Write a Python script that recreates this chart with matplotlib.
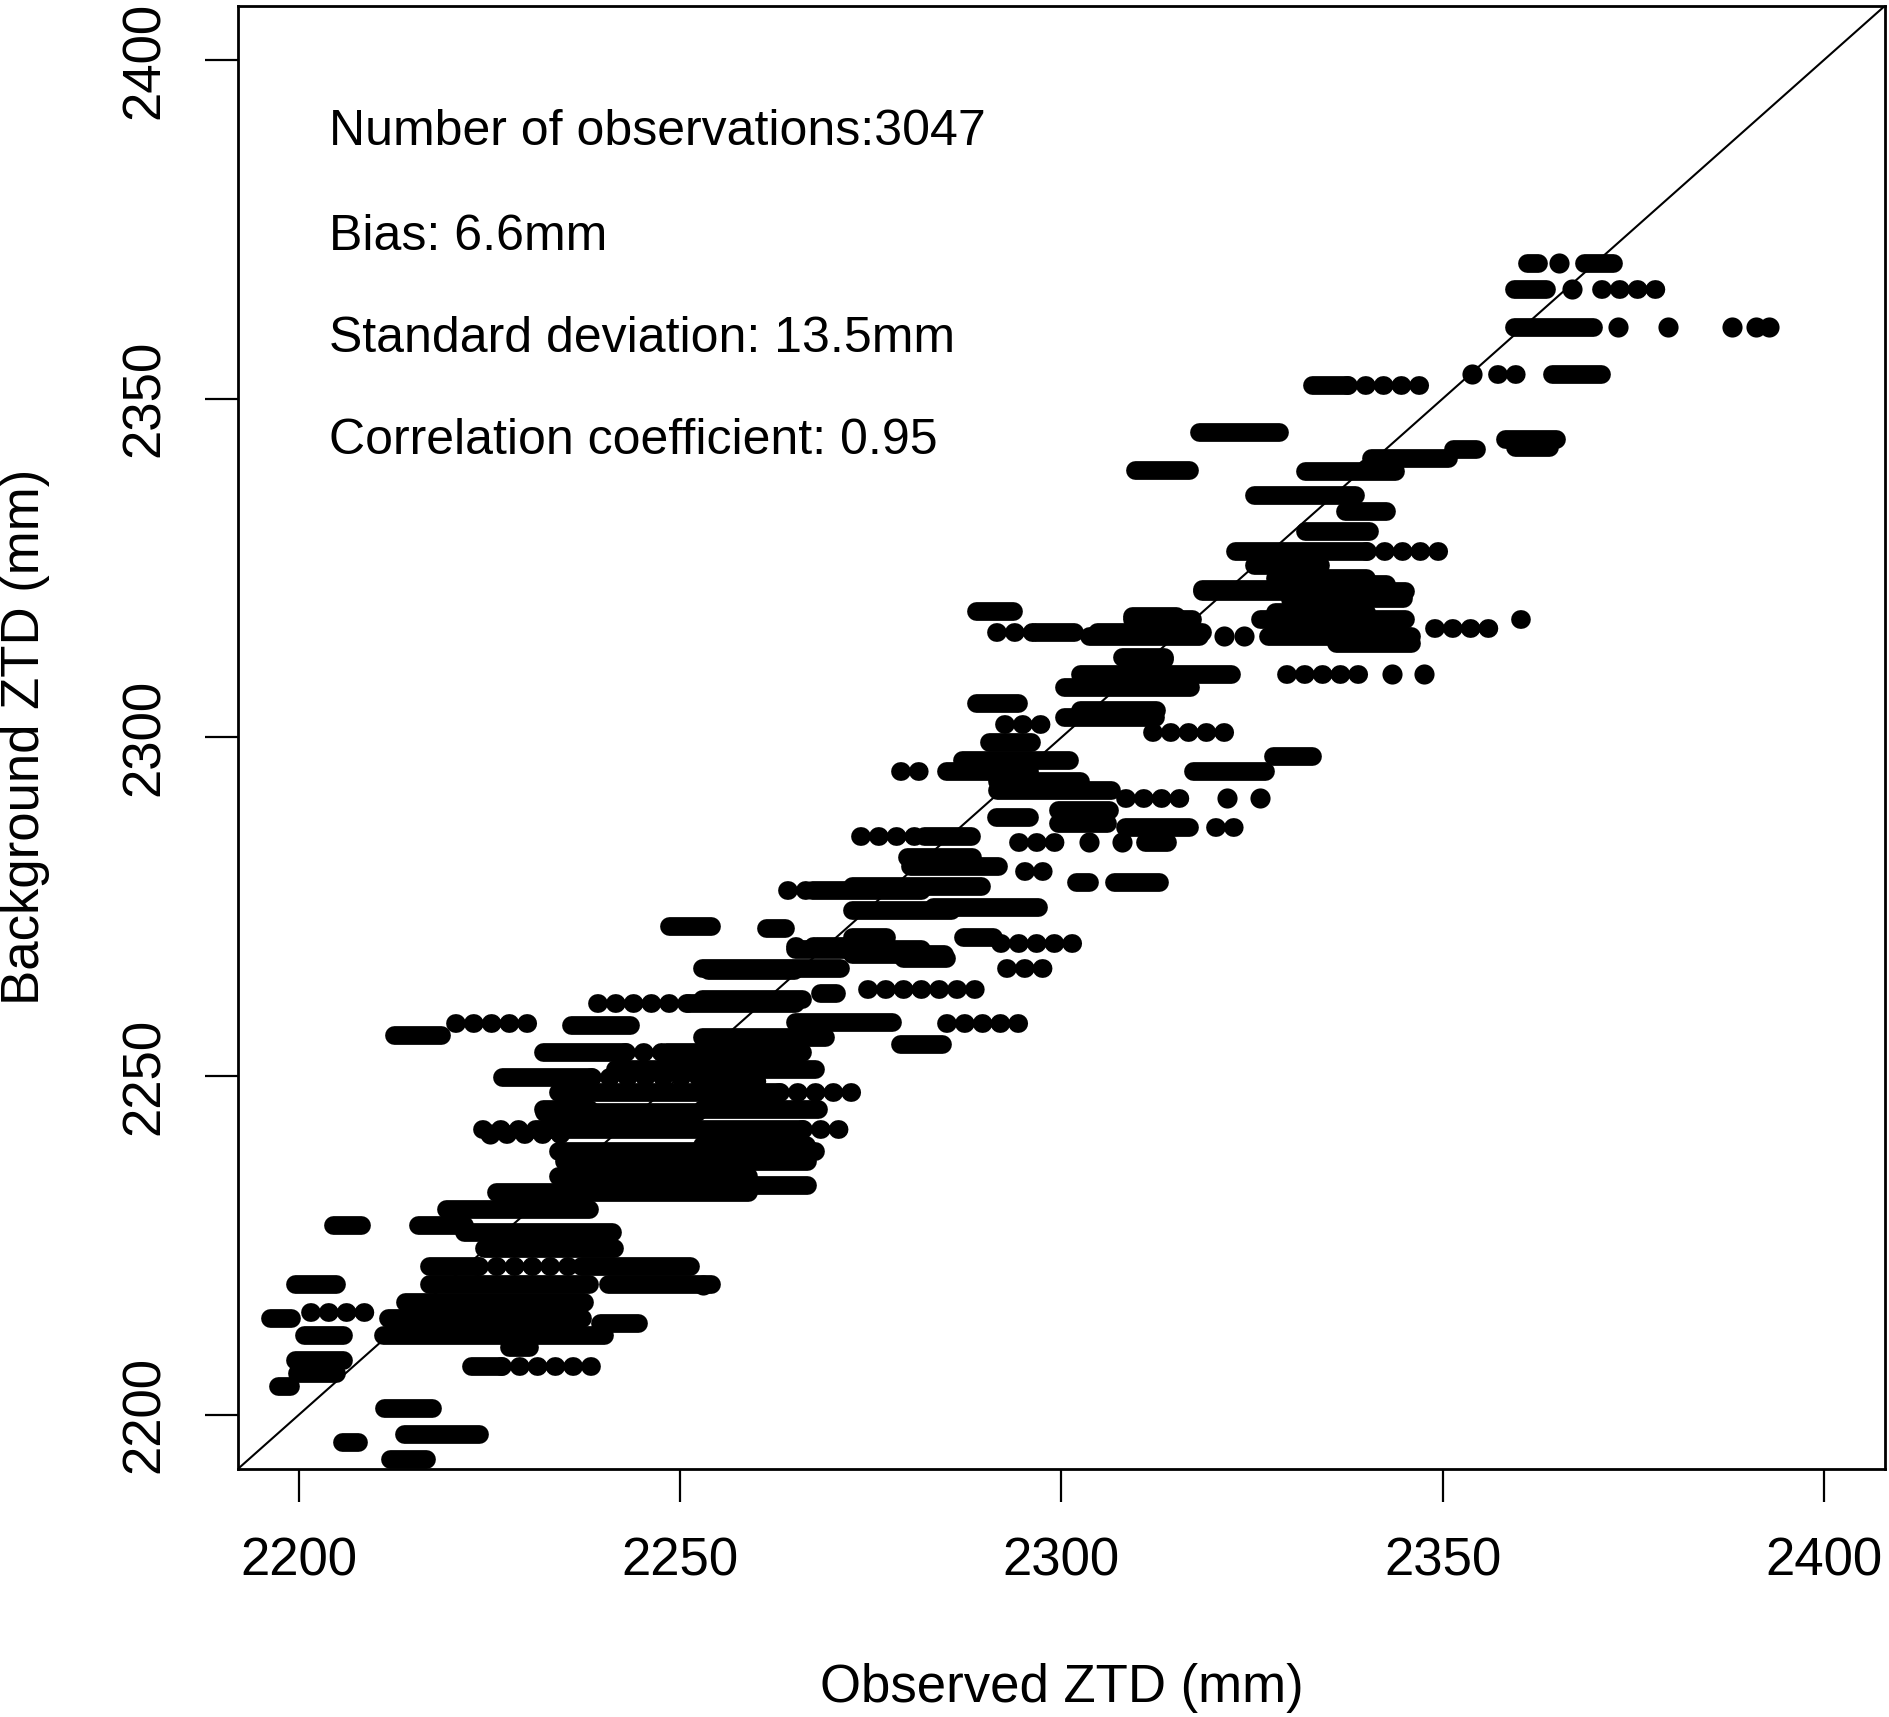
import matplotlib
matplotlib.use("Agg")
import matplotlib.pyplot as plt

# horizontal runs of overlapping points: (background ZTD, observed from, observed to)
dense_runs = [
    (2370.0, 2361.0, 2362.5), (2370.0, 2368.6, 2372.3), (2366.2, 2359.3, 2363.6),
    (2360.6, 2359.3, 2369.7), (2353.7, 2364.3, 2370.8), (2344.0, 2358.2, 2364.9),
    (2342.8, 2359.5, 2364.0), (2352.0, 2332.8, 2337.5), (2345.1, 2318.0, 2328.5),
    (2342.6, 2351.3, 2354.4), (2341.2, 2340.6, 2350.7), (2339.7, 2340.0, 2343.6),
    (2339.5, 2309.7, 2316.7), (2339.3, 2331.9, 2343.7), (2335.8, 2325.2, 2338.5),
    (2333.4, 2337.2, 2342.6), (2330.4, 2331.9, 2340.4), (2327.5, 2322.8, 2340.0),
    (2325.5, 2325.2, 2333.9), (2323.5, 2328.0, 2340.0), (2322.6, 2333.0, 2342.6),
    (2321.9, 2318.4, 2329.3), (2321.6, 2318.4, 2345.0), (2320.6, 2340.0, 2344.8),
    (2320.5, 2330.0, 2340.0), (2318.7, 2288.8, 2293.6), (2318.5, 2328.0, 2340.0),
    (2317.9, 2309.3, 2315.0), (2317.5, 2309.3, 2317.1), (2317.5, 2326.0, 2345.0),
    (2315.5, 2296.5, 2301.7), (2315.5, 2304.7, 2318.4), (2315.0, 2303.6, 2318.0),
    (2315.0, 2327.1, 2345.9), (2314.0, 2336.0, 2345.9), (2311.8, 2308.0, 2313.5),
    (2311.6, 2308.4, 2313.4), (2309.4, 2302.5, 2322.3), (2307.4, 2300.4, 2316.9),
    (2305.0, 2288.8, 2294.3), (2304.0, 2302.5, 2312.4), (2303.0, 2300.4, 2312.3),
    (2299.3, 2290.5, 2296.0), (2297.2, 2327.8, 2332.8), (2296.6, 2287.0, 2301.0),
    (2295.1, 2284.9, 2295.8), (2295.1, 2317.3, 2326.7), (2293.5, 2291.5, 2302.5),
    (2292.2, 2291.5, 2306.5), (2289.3, 2299.6, 2306.3), (2288.3, 2291.4, 2295.8),
    (2287.3, 2299.6, 2306.0), (2286.8, 2308.4, 2316.7), (2285.4, 2282.0, 2288.2),
    (2284.6, 2311.0, 2313.9), (2282.4, 2279.7, 2288.3), (2281.0, 2280.2, 2291.7),
    (2278.7, 2301.9, 2303.6), (2278.7, 2306.9, 2312.8), (2278.0, 2272.5, 2289.4),
    (2277.5, 2267.3, 2281.6), (2275.0, 2283.2, 2296.9), (2274.5, 2272.5, 2285.5),
    (2272.1, 2248.5, 2254.1), (2271.9, 2261.2, 2263.8), (2270.6, 2287.1, 2291.0),
    (2270.6, 2272.5, 2277.0), (2269.2, 2268.0, 2277.1), (2268.7, 2265.0, 2281.6),
    (2268.0, 2272.5, 2284.6), (2267.4, 2279.2, 2284.9), (2266.0, 2252.9, 2270.9),
    (2265.7, 2253.6, 2264.9), (2262.3, 2268.4, 2270.5), (2261.3, 2252.9, 2266.0),
    (2260.8, 2251.0, 2265.1), (2258.0, 2265.0, 2277.8), (2257.6, 2235.7, 2243.4),
    (2256.1, 2212.5, 2218.6), (2255.7, 2252.9, 2269.0), (2254.7, 2278.8, 2284.3),
    (2253.5, 2232.0, 2242.7), (2253.5, 2248.2, 2266.0), (2251.0, 2241.5, 2267.7),
    (2249.8, 2226.6, 2238.3), (2247.6, 2234.0, 2263.0), (2245.1, 2232.0, 2238.0),
    (2245.1, 2252.9, 2268.1), (2244.7, 2232.2, 2252.2), (2242.2, 2231.0, 2266.0),
    (2239.8, 2252.9, 2266.5), (2239.0, 2234.0, 2267.7), (2238.3, 2234.7, 2258.9),
    (2237.8, 2260.0, 2264.2), (2237.5, 2234.8, 2266.6), (2235.3, 2234.0, 2258.9),
    (2233.9, 2252.9, 2266.6), (2232.9, 2225.8, 2258.9), (2230.4, 2219.3, 2238.0),
    (2228.0, 2204.5, 2208.2), (2228.0, 2215.6, 2221.7), (2227.0, 2221.7, 2241.0),
    (2224.6, 2224.3, 2241.3), (2221.9, 2217.1, 2223.5), (2221.9, 2237.0, 2251.3),
    (2219.3, 2199.5, 2204.9), (2219.3, 2217.1, 2238.0), (2219.3, 2240.5, 2254.1),
    (2216.7, 2213.9, 2237.4), (2214.3, 2196.2, 2199.0), (2214.3, 2211.7, 2237.1),
    (2213.5, 2239.5, 2244.5), (2211.8, 2200.6, 2205.8), (2211.8, 2211.0, 2240.0),
    (2210.0, 2227.6, 2230.2), (2208.1, 2199.5, 2205.8), (2207.2, 2222.5, 2226.5),
    (2206.2, 2199.7, 2204.9), (2204.2, 2197.3, 2198.8), (2201.0, 2211.2, 2217.5),
    (2197.1, 2213.8, 2223.6), (2195.9, 2205.6, 2207.7), (2193.4, 2211.9, 2216.7),
]

# runs where the points are spaced out
dotted_runs = [
    (2366.2, 2370.8, 2379.1), (2353.7, 2357.1, 2360.8), (2352.0, 2337.5, 2348.8),
    (2327.5, 2340.0, 2349.8), (2317.5, 2360.2, 2362.0), (2316.2, 2348.9, 2357.2),
    (2315.5, 2291.4, 2296.5), (2309.4, 2329.5, 2340.0), (2302.0, 2292.5, 2299.3),
    (2300.8, 2311.9, 2321.9), (2295.1, 2278.8, 2282.1), (2291.0, 2308.4, 2317.1),
    (2286.8, 2320.2, 2323.0), (2285.4, 2273.6, 2282.0), (2284.6, 2294.3, 2300.6),
    (2280.2, 2295.1, 2298.0), (2277.5, 2264.0, 2267.3), (2269.6, 2291.9, 2301.5),
    (2269.2, 2265.1, 2268.0), (2266.0, 2292.7, 2299.7), (2262.8, 2274.5, 2290.3),
    (2260.8, 2239.1, 2251.0), (2257.9, 2284.9, 2295.8), (2257.9, 2220.5, 2230.3),
    (2253.5, 2242.7, 2248.2), (2249.8, 2238.3, 2257.0), (2249.3, 2252.9, 2261.6),
    (2247.6, 2263.0, 2273.6), (2242.2, 2224.0, 2231.0), (2242.2, 2266.0, 2272.0),
    (2241.5, 2227.2, 2235.4), (2221.9, 2223.5, 2237.0), (2215.2, 2201.4, 2209.1),
    (2207.2, 2226.5, 2239.1),
]

# isolated points
single_obs = [2365.2, 2366.9, 2373.0, 2379.5, 2388.0, 2391.1, 2392.8, 2353.8,
              2321.3, 2323.9, 2343.3, 2347.6, 2321.7, 2326.1, 2303.6, 2308.0,
              2225.1, 2253.0]
single_bg = [2370.0, 2366.2, 2360.6, 2360.6, 2360.6, 2360.6, 2360.6, 2353.7,
             2315.0, 2315.0, 2309.4, 2309.4, 2291.0, 2291.0, 2284.6, 2284.6,
             2241.5, 2219.2]

stats = ["Number of observations:3047", "Bias: 6.6mm",
         "Standard deviation: 13.5mm", "Correlation coefficient: 0.95"]
stats_y = [2387.4, 2371.9, 2356.9, 2341.9]

ticks = [2200, 2250, 2300, 2350, 2400]

plt.rcParams['font.family'] = ['Liberation Sans', 'DejaVu Sans']

fig = plt.figure(figsize=(18.9, 17.17), dpi=100)
ax = fig.add_axes([0.1259, 0.1445, 0.8714, 0.8521])

lw = 13.5
for y, x0, x1 in dense_runs:
    ax.plot([x0, x1], [y, y], color="black", lw=lw, solid_capstyle="round")
for y, x0, x1 in dotted_runs:
    ax.plot([x0, x1], [y, y], color="black", lw=lw,
            linestyle=(0, (0.05, 0.9)), dash_capstyle="round")
ax.plot(single_obs, single_bg, "o", color="black", ms=14.5, mew=0)

ax.axline((2200, 2200), slope=1, color="black", lw=1.5)

for s, y in zip(stats, stats_y):
    ax.text(2204, y, s, fontsize=36, ha="left", va="baseline")

ax.set_xlim(2192, 2408)
ax.set_ylim(2192, 2408)
ax.set_xticks(ticks)
ax.set_yticks(ticks)
ax.tick_params(direction="out", length=24, width=1.6, labelsize=38, pad=25)
ax.tick_params(axis="y", labelrotation=90)
for lbl in ax.get_yticklabels():
    lbl.set_va("center")
for sp in ax.spines.values():
    sp.set_linewidth(2)

ax.set_xlabel("Observed ZTD (mm)", fontsize=38)
ax.set_ylabel("Background ZTD (mm)", fontsize=38)
ax.xaxis.set_label_coords(0.5, -0.133)
ax.yaxis.set_label_coords(-0.114, 0.5)

fig.savefig("out.png", dpi=100)
